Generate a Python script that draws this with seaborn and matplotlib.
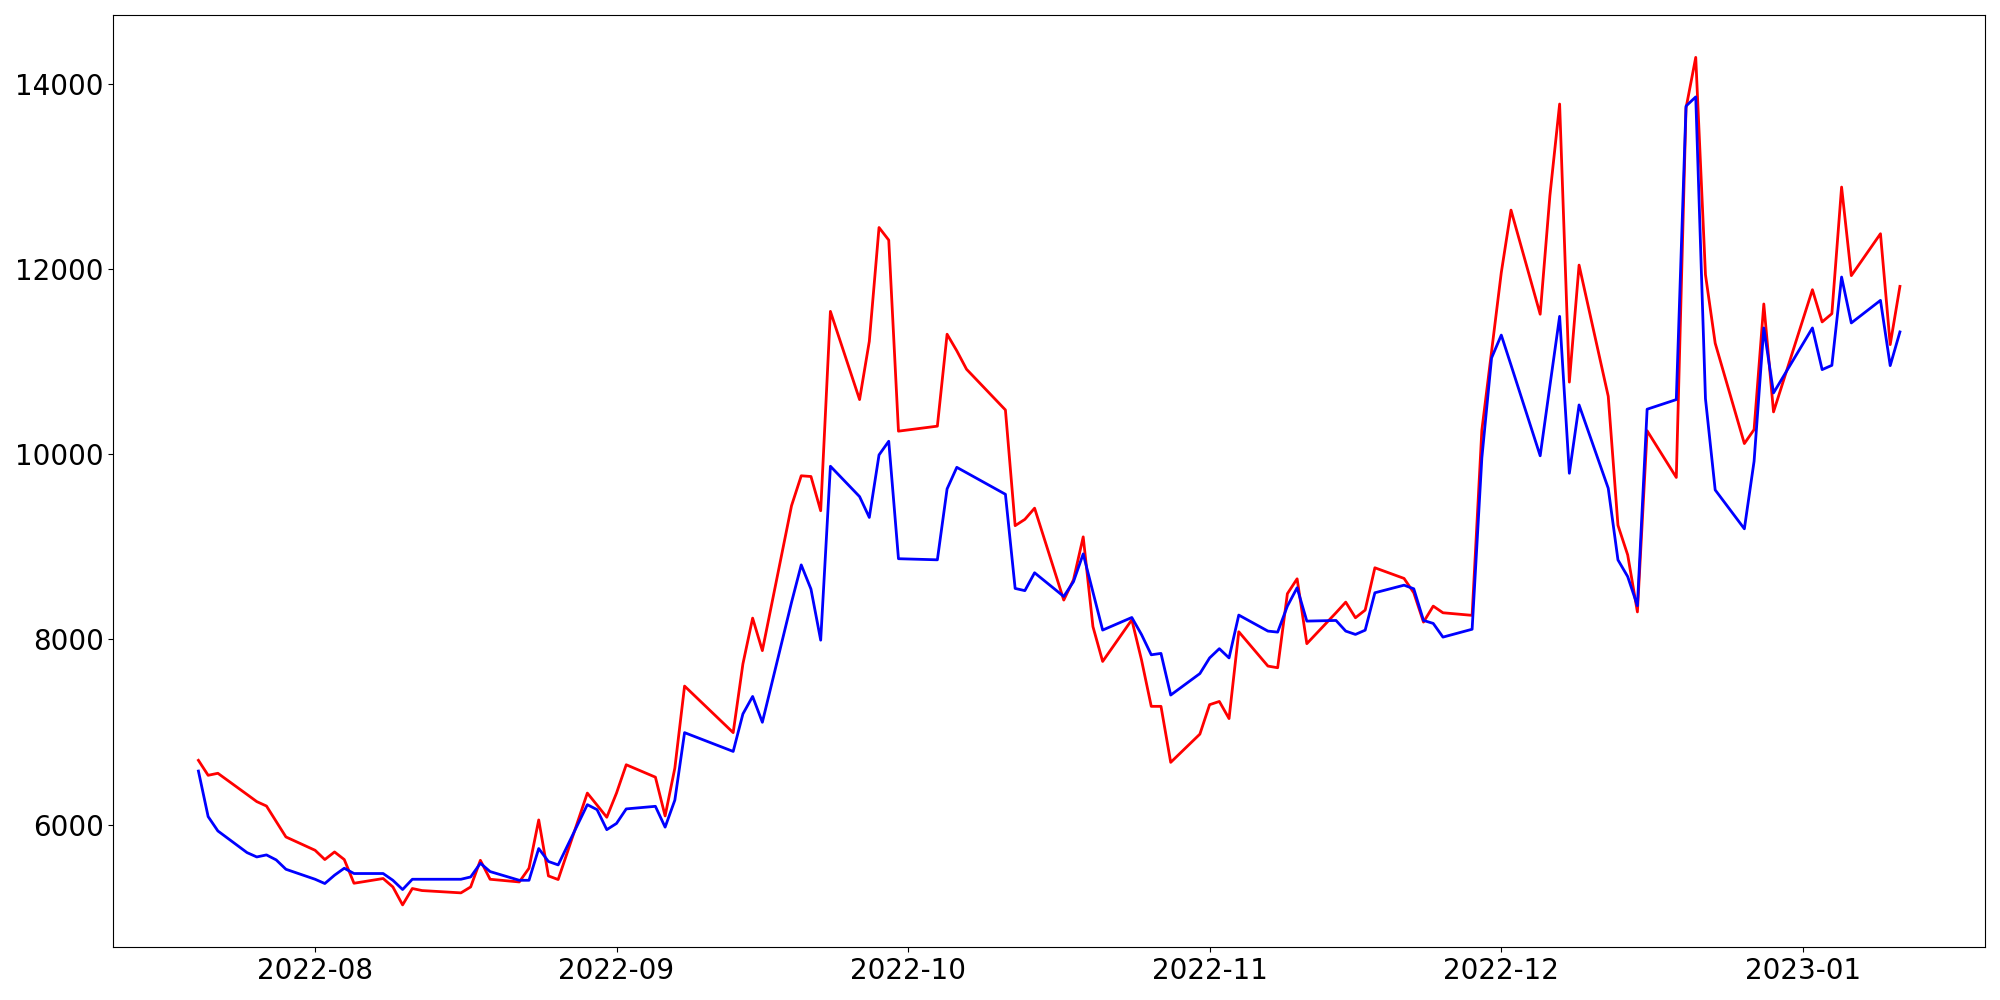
import numpy as np
import pandas as pd
import matplotlib
matplotlib.use("Agg")
import matplotlib.pyplot as plt
import seaborn as sns

# trading days shown on the chart
dates = [
    "2022-07-20", "2022-07-21", "2022-07-22", "2022-07-25", "2022-07-26", "2022-07-27", "2022-07-28", "2022-07-29",
    "2022-08-01", "2022-08-02", "2022-08-03", "2022-08-04", "2022-08-05", "2022-08-08", "2022-08-09", "2022-08-10",
    "2022-08-11", "2022-08-12", "2022-08-16", "2022-08-17", "2022-08-18", "2022-08-19", "2022-08-22", "2022-08-23",
    "2022-08-24", "2022-08-25", "2022-08-26", "2022-08-29", "2022-08-30", "2022-08-31",
    "2022-09-01", "2022-09-02", "2022-09-05", "2022-09-06", "2022-09-07", "2022-09-08", "2022-09-13", "2022-09-14",
    "2022-09-15", "2022-09-16", "2022-09-19", "2022-09-20", "2022-09-21", "2022-09-22", "2022-09-23", "2022-09-26",
    "2022-09-27", "2022-09-28", "2022-09-29", "2022-09-30",
    "2022-10-04", "2022-10-05", "2022-10-06", "2022-10-07", "2022-10-11", "2022-10-12", "2022-10-13", "2022-10-14",
    "2022-10-17", "2022-10-18", "2022-10-19", "2022-10-20", "2022-10-21", "2022-10-24", "2022-10-25", "2022-10-26",
    "2022-10-27", "2022-10-28", "2022-10-31",
    "2022-11-01", "2022-11-02", "2022-11-03", "2022-11-04", "2022-11-07", "2022-11-08", "2022-11-09", "2022-11-10",
    "2022-11-11", "2022-11-14", "2022-11-15", "2022-11-16", "2022-11-17", "2022-11-18", "2022-11-21", "2022-11-22",
    "2022-11-23", "2022-11-24", "2022-11-25", "2022-11-28", "2022-11-29", "2022-11-30",
    "2022-12-01", "2022-12-02", "2022-12-05", "2022-12-06", "2022-12-07", "2022-12-08", "2022-12-09", "2022-12-12",
    "2022-12-13", "2022-12-14", "2022-12-15", "2022-12-16", "2022-12-19", "2022-12-20", "2022-12-21", "2022-12-22",
    "2022-12-23", "2022-12-26", "2022-12-27", "2022-12-28", "2022-12-29",
    "2023-01-02", "2023-01-03", "2023-01-04", "2023-01-05", "2023-01-06", "2023-01-09", "2023-01-10", "2023-01-11",
]

red_values = [
    6694, 6532, 6554, 6325, 6248, 6200, 6033, 5866,
    5722, 5622, 5704, 5622, 5366, 5417, 5326, 5132,
    5309, 5287, 5262, 5326, 5614, 5409, 5380, 5528,
    6050, 5445, 5406, 6340, 6210, 6079,
    6340, 6646, 6512, 6093, 6610, 7496, 6993, 7735,
    8230, 7879, 9444, 9768, 9760, 9390, 11544, 10591,
    11220, 12450, 12314, 10250,
    10304, 11297, 11118, 10919, 10479, 9229, 9297, 9418,
    8425, 8644, 9108, 8139, 7762, 8212, 7777, 7277,
    7277, 6672, 6977,
    7295, 7330, 7145, 8083, 7712, 7694, 8494, 8655,
    7954, 8288, 8403, 8234, 8317, 8774, 8659, 8504,
    8187, 8360, 8288, 8260, 10260, 11110,
    11963, 12638, 11513, 12795, 13784, 10780, 12044, 10627,
    9233, 8913, 8297, 10254, 9750, 13740, 14288, 11940,
    11200, 10116, 10267, 11624, 10458,
    11778, 11430, 11519, 12887, 11930, 12383, 11185, 11814,
]

blue_values = [
    6578, 6086, 5931, 5697, 5650, 5672, 5618, 5517,
    5409, 5363, 5453, 5528, 5471, 5471, 5398, 5298,
    5409, 5409, 5409, 5434, 5582, 5492, 5398, 5398,
    5741, 5601, 5564, 6215, 6161, 5945,
    6012, 6169, 6197, 5972, 6264, 6993, 6790, 7195,
    7384, 7105, 8400, 8805, 8544, 7992, 9871, 9543,
    9318, 9993, 10141, 8872,
    8860, 9626, 9859, 9801, 9568, 8551, 8527, 8720,
    8464, 8624, 8924, 8512, 8101, 8237, 8052, 7834,
    7849, 7399, 7631,
    7800, 7900, 7800, 8263, 8090, 8079, 8360, 8558,
    8198, 8205, 8090, 8054, 8100, 8504, 8586, 8547,
    8205, 8173, 8025, 8110, 9960, 11041,
    11288, 10964, 9984, 10740, 11490, 9795, 10533, 9633,
    8859, 8679, 8364, 10487, 10591, 13762, 13861, 10600,
    9615, 9195, 9925, 11365, 10663,
    11365, 10915, 10961, 11915, 11419, 11663, 10958, 11322,
]

df = pd.DataFrame({
    "date": pd.to_datetime(dates),
    "red": red_values,
    "blue": blue_values,
})

fig, ax = plt.subplots(figsize=(20, 10), dpi=100)

sns.lineplot(data=df, x="date", y="red", color="red", linewidth=2, ax=ax)
sns.lineplot(data=df, x="date", y="blue", color="blue", linewidth=2, ax=ax)

ax.set_xlabel("")
ax.set_ylabel("")
ax.tick_params(axis="both", labelsize=20)

plt.tight_layout()
plt.savefig("out.png")
